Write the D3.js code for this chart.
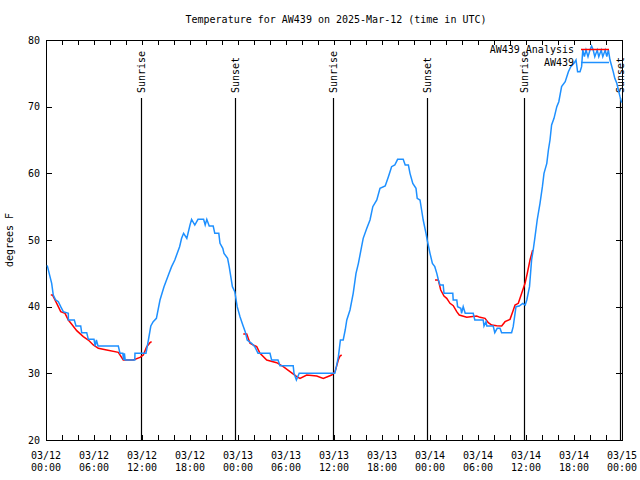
<!DOCTYPE html>
<html>
<head>
<meta charset="utf-8">
<script src="https://cdn.jsdelivr.net/npm/d3@7"></script>
<style>
  body { margin: 0; background: #fff; }
  svg { display: block; }
  text { font-family: "DejaVu Sans Mono", "Liberation Mono", monospace; font-size: 10px; fill: #000; }
</style>
</head>
<body>
<svg id="chart" width="640" height="480"></svg>
<script>
// ---- Data (hours since 2025-03-12 00:00 UTC, temperature in °F) ----
const obsHours = [
  0.15, 0.71, 0.91, 1.21, 1.54, 1.84, 2.16, 2.79, 2.8, 3.54,
  3.75, 4.34, 4.46, 5.09, 5.29, 6.0, 6.15, 6.3, 6.5, 9.04,
  9.25, 9.6, 9.7, 9.8, 9.9, 11.1, 11.12, 12.5, 12.8, 13.1,
  13.4, 13.8, 14.25, 14.75, 15.3, 15.7, 16.1, 16.7, 16.95, 17.2,
  17.6, 18.0, 18.2, 18.6, 19.0, 19.7, 19.9, 20.1, 20.4, 20.9,
  21.1, 21.6, 21.75, 22.1, 22.25, 22.7, 22.9, 23.1, 23.3, 23.6,
  23.9, 24.25, 24.6, 24.9, 25.15, 25.7, 26.1, 26.5, 28.0, 28.2,
  29.0, 29.25, 30.9, 31.0, 31.3, 31.65, 36.1, 36.3, 36.55, 36.8,
  37.15, 37.4, 37.6, 38.0, 38.4, 38.75, 39.05, 39.45, 39.65, 40.1,
  40.5, 40.85, 41.35, 41.75, 42.4, 42.8, 43.2, 43.6, 43.95, 44.65,
  44.9, 45.3, 45.5, 45.85, 46.25, 46.4, 46.75, 46.95, 47.15, 47.5,
  47.65, 48.0, 48.3, 48.6, 48.85, 49.05, 49.25, 49.65, 49.75, 50.85,
  50.9, 51.35, 51.45, 51.85, 51.95, 52.15, 52.4, 53.4, 53.6, 54.65,
  54.75, 55.0, 55.1, 55.9, 56.1, 56.4, 56.75, 56.95, 58.2, 58.4,
  58.75, 59.15, 59.6, 59.9, 60.1, 60.44, 60.7, 60.9, 61.1, 61.4,
  61.75, 62.05, 62.25, 62.6, 62.8, 63.0, 63.2, 63.5, 63.85, 64.1,
  64.45, 64.9, 65.3, 65.6, 66.0, 66.25, 66.45, 66.75, 66.95, 67.1,
  67.3, 67.5, 67.75, 68.0, 68.2, 68.4, 68.6, 68.9, 69.1, 69.4,
  69.6, 69.9, 70.1, 70.3, 70.5, 70.9, 71.1, 71.35, 71.75, 71.95
];
const obsTemps = [
  46.2, 43.5, 41.75, 41.0, 40.75, 40.0, 39.25, 39.0, 38.0, 38.0,
  37.1, 37.1, 36.1, 36.1, 35.1, 35.1, 34.1, 35.0, 34.1, 34.1,
  33.0, 33.0, 32.0, 33.0, 32.0, 32.0, 33.0, 33.0, 35.0, 37.1,
  37.75, 38.25, 41.0, 43.0, 44.75, 46.0, 47.0, 49.0, 50.25, 51.0,
  50.25, 52.25, 53.1, 52.25, 53.1, 53.1, 52.25, 53.1, 52.1, 52.1,
  51.0, 51.0, 49.5, 48.75, 48.0, 47.25, 46.0, 44.5, 43.0, 42.25,
  40.0, 38.5, 37.25, 36.25, 35.0, 34.5, 34.0, 33.0, 33.0, 32.0,
  32.0, 31.15, 31.15, 30.0, 29.0, 30.0, 30.0, 31.0, 32.5, 35.0,
  35.0, 36.5, 38.0, 39.5, 42.0, 45.0, 46.5, 49.0, 50.25, 51.75,
  53.0, 55.0, 56.0, 57.75, 58.1, 59.5, 61.0, 61.25, 62.1, 62.1,
  61.25, 61.25, 60.0, 58.5, 57.75, 56.25, 56.0, 54.5, 53.0, 51.0,
  50.0, 48.0, 46.5, 46.0, 45.0, 44.0, 43.25, 43.25, 42.0, 42.0,
  41.0, 41.0, 40.0, 39.75, 39.0, 40.0, 39.0, 39.0, 38.0, 38.0,
  37.1, 37.75, 37.1, 37.1, 36.1, 36.75, 36.75, 36.1, 36.1, 37.0,
  40.0, 40.1, 40.5, 40.25, 41.0, 43.0, 47.0, 48.5, 50.25, 53.0,
  55.5, 58.0, 60.0, 61.5, 63.5, 65.0, 67.25, 68.25, 70.0, 70.75,
  73.0, 73.75, 75.25, 76.0, 76.5, 77.0, 75.25, 75.25, 76.0, 78.5,
  77.5, 78.5, 77.5, 78.5, 79.1, 78.5, 77.5, 78.5, 77.5, 78.5,
  77.5, 78.5, 77.5, 78.5, 77.0, 75.25, 74.25, 73.5, 71.5, 70.6
];
// Analysis series: null separates the three overnight segments
const anaHours = [
  0.6, 0.81, 1.34, 1.84, 2.38, 2.79, 3.29, 3.84, 4.66, 5.29,
  5.91, 6.54, 7.59, 9.04, 9.66, 10.91, 11.75, 12.16, 12.59, 13.0, 13.2,
  null,
  24.66, 25.09, 25.5, 26.34, 26.75, 27.59, 28.84, 29.66, 30.5, 31.34,
  31.75, 32.59, 33.84, 34.66, 35.71, 36.13, 36.54, 36.75, 36.96,
  null,
  48.63, 49.04, 49.34, 49.75, 50.09, 50.5, 50.91, 51.34, 51.66, 52.59,
  53.84, 54.25, 54.88, 55.29, 55.71, 56.34, 56.96, 57.38, 58.0, 58.34,
  58.63, 59.04, 59.46, 59.88, 60.16, 60.5, 60.84
];
const anaTemps = [
  41.75, 41.75, 40.5, 39.25, 39.0, 38.0, 37.25, 36.4, 35.5, 35.0,
  34.25, 33.75, 33.5, 33.15, 32.0, 32.0, 32.4, 32.75, 34.0, 34.6, 34.75,
  null,
  35.9, 35.9, 34.5, 34.0, 33.0, 32.0, 31.6, 31.0, 30.25, 29.5,
  29.25, 29.75, 29.6, 29.25, 29.75, 30.25, 32.0, 32.6, 32.75,
  null,
  44.0, 44.0, 42.5, 41.6, 41.25, 40.5, 40.15, 39.25, 38.75, 38.4,
  38.6, 38.4, 38.25, 37.6, 37.25, 37.15, 37.1, 37.75, 38.1, 39.25,
  40.25, 40.5, 42.0, 43.5, 45.0, 47.0, 48.5
];
const sunriseTimes = ["2025-03-12T11:50:00Z", "2025-03-13T11:49:00Z", "2025-03-14T11:47:00Z"];
const sunsetTimes  = ["2025-03-12T23:35:00Z", "2025-03-13T23:35:00Z", "2025-03-14T23:42:00Z"];
const yTickValues = [20, 30, 40, 50, 60, 70, 80];
const seriesNames = ["AW439 Analysis", "AW439"];
const seriesColors = ["#ff0000", "#1e90ff"];
const titleText = "Temperature for AW439 on 2025-Mar-12 (time in UTC)";
const yLabelText = "degrees F";

// ---- Layout ----
const svg = d3.select("#chart");
const plotLeft = 46, plotRight = 622, plotTop = 40, plotBottom = 440;
const t0 = new Date(Date.UTC(2025, 2, 12, 0, 0));
const t1 = new Date(Date.UTC(2025, 2, 15, 0, 0));
const hourToDate = h => new Date(t0.getTime() + h * 3600e3);

const x = d3.scaleUtc().domain([t0, t1]).range([plotLeft, plotRight]);
const y = d3.scaleLinear().domain([20, 80]).range([plotBottom, plotTop]);

// Title
svg.append("text").attr("x", (plotLeft + plotRight) / 2 + 2).attr("y", 23)
  .attr("text-anchor", "middle").text(titleText);

// Y label
svg.append("text").attr("transform", `translate(13,240) rotate(-90)`)
  .attr("text-anchor", "middle").text(yLabelText);

// Axes
const twoHour = d3.utcHour.every(2);
const bottomAxis = d3.axisBottom(x).ticks(twoHour).tickSizeInner(-5).tickSizeOuter(0).tickFormat("");
const topAxis = d3.axisTop(x).ticks(twoHour).tickSizeInner(-5).tickSizeOuter(0).tickFormat("");
const leftAxis = d3.axisLeft(y).tickValues(yTickValues).tickSizeInner(-6).tickSizeOuter(0).tickPadding(6);
const rightAxis = d3.axisRight(y).tickValues(yTickValues).tickSizeInner(-6).tickSizeOuter(0).tickFormat("");

function styleAxis(g) {
  g.selectAll("path.domain").remove();
  g.selectAll(".tick line").attr("stroke", "#000").attr("shape-rendering", "crispEdges");
  g.selectAll("text").style("font-family", '"DejaVu Sans Mono", monospace').style("font-size", "10px").attr("fill", "#000");
}
svg.append("g").attr("transform", `translate(0,${plotBottom})`).call(bottomAxis).call(styleAxis);
svg.append("g").attr("transform", `translate(0,${plotTop})`).call(topAxis).call(styleAxis);
svg.append("g").attr("transform", `translate(${plotLeft},0)`).call(leftAxis).call(styleAxis);
svg.append("g").attr("transform", `translate(${plotRight},0)`).call(rightAxis).call(styleAxis);

// X tick labels (two lines) every 6 hours
const fmtDate = d3.utcFormat("%m/%d"), fmtTime = d3.utcFormat("%H:%M");
const xLab = svg.append("g");
x.ticks(d3.utcHour.every(6)).forEach(d => {
  const t = xLab.append("text").attr("x", x(d)).attr("y", 459).attr("text-anchor", "middle");
  t.append("tspan").attr("x", x(d)).attr("y", 459).text(fmtDate(d));
  t.append("tspan").attr("x", x(d)).attr("y", 471).text(fmtTime(d));
});

// Frame
svg.append("rect").attr("x", plotLeft + 0.5).attr("y", plotTop + 0.5)
  .attr("width", plotRight - plotLeft).attr("height", plotBottom - plotTop)
  .attr("fill", "none").attr("stroke", "#000").attr("shape-rendering", "crispEdges");

// Sunrise / Sunset markers
const markers = sunriseTimes.map(s => ({ t: new Date(s), label: "Sunrise" }))
  .concat(sunsetTimes.map(s => ({ t: new Date(s), label: "Sunset" })));
markers.forEach(m => {
  const xx = Math.round(x(m.t)) + 0.5;
  svg.append("line").attr("x1", xx).attr("x2", xx).attr("y1", 98).attr("y2", plotBottom)
    .attr("stroke", "#000").attr("stroke-width", 1.2);
  svg.append("text").attr("transform", `translate(${xx + 3.5},93) rotate(-90)`)
    .attr("text-anchor", "start").text(m.label);
});

// Series lines
const anaData = anaHours.map((h, i) => ({ h, v: anaTemps[i] }));
const obsData = obsHours.map((h, i) => ({ h, v: obsTemps[i] }));
const line = d3.line()
  .defined(d => d.h !== null && d.v !== null)
  .x(d => x(hourToDate(d.h))).y(d => y(d.v));

svg.append("path").datum(anaData).attr("d", line)
  .attr("fill", "none").attr("stroke", seriesColors[0]).attr("stroke-width", 1.5);
svg.append("path").datum(obsData).attr("d", line)
  .attr("fill", "none").attr("stroke", seriesColors[1]).attr("stroke-width", 1.5);

// Legend
const legendRows = [{ y: 49 }, { y: 62 }];
seriesNames.forEach((name, i) => {
  const ly = legendRows[i].y;
  svg.append("text").attr("x", 574).attr("y", ly + 4).attr("text-anchor", "end").text(name);
  svg.append("line").attr("x1", 581).attr("x2", 609).attr("y1", ly + 0.5).attr("y2", ly + 0.5)
    .attr("stroke", seriesColors[i]).attr("stroke-width", 1.5);
});
</script>
</body>
</html>
